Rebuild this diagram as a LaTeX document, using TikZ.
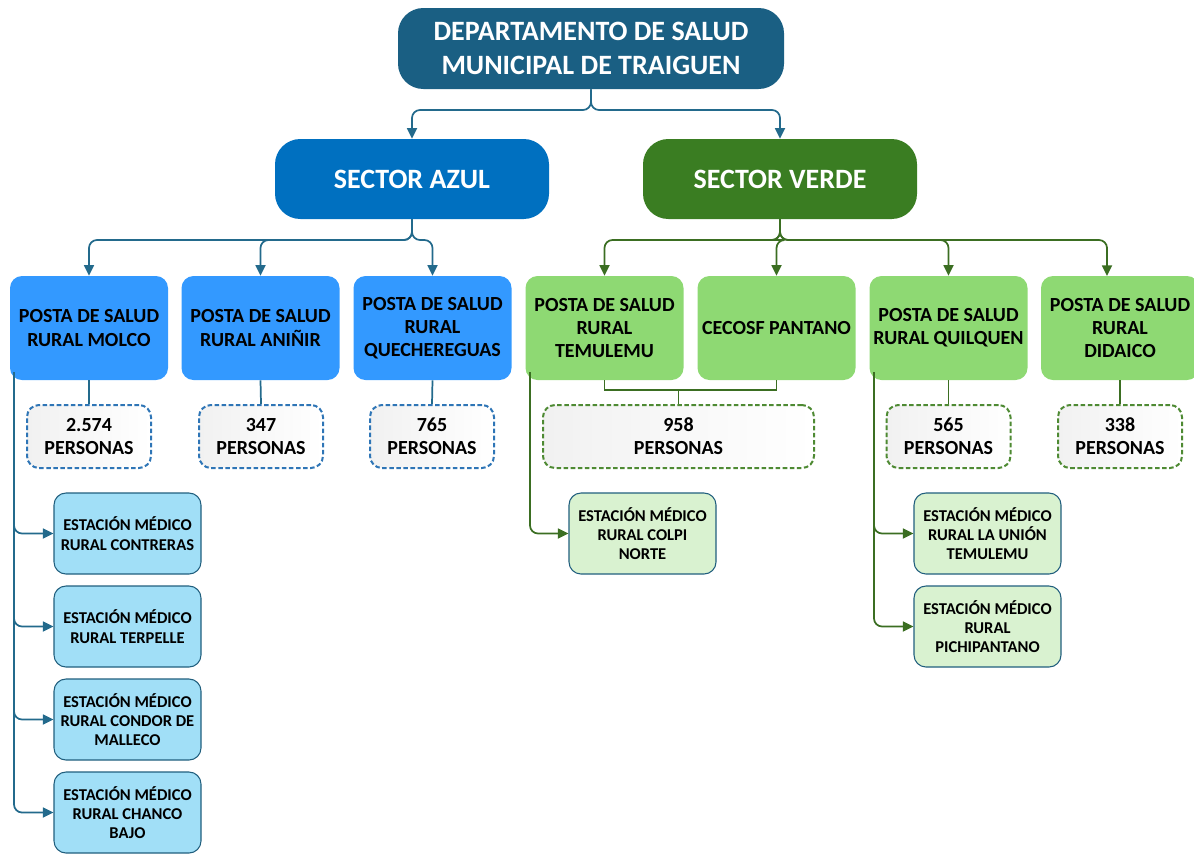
\documentclass[tikz,border=0pt]{standalone}
\usepackage{fontspec}
\setmainfont{Carlito}
\usetikzlibrary{arrows.meta}

\definecolor{titleteal}{HTML}{1A5F83}
\definecolor{secazul}{HTML}{0070C0}
\definecolor{secverde}{HTML}{3A7D22}
\definecolor{postaazul}{HTML}{3399FF}
\definecolor{postaverde}{HTML}{8ED973}
\definecolor{estazul}{HTML}{A1DFF7}
\definecolor{estverde}{HTML}{D9F2D0}
\definecolor{lineazul}{HTML}{236A8C}
\definecolor{lineverde}{HTML}{3B6E22}
\definecolor{dashazul}{HTML}{2E75B6}
\definecolor{dashverde}{HTML}{4E8A33}
\definecolor{estborde}{HTML}{215F7E}

\begin{document}
\begin{tikzpicture}[x=0.75pt,y=-0.75pt,
  every node/.style={font=\bfseries,align=center,inner sep=0pt},
  titlebox/.style={fill=titleteal,text=white,rounded corners=19pt,
    minimum width=289.5pt,minimum height=60.75pt,font=\bfseries\fontsize{21}{25.5}\selectfont},
  sectorbox/.style={fill=#1,text=white,rounded corners=19pt,
    minimum width=205.5pt,minimum height=60pt,font=\bfseries\fontsize{21}{25}\selectfont},
  postabox/.style={fill=#1,rounded corners=9pt,
    minimum width=118.5pt,minimum height=78pt,font=\bfseries\fontsize{15}{17.3}\selectfont},
  personbox/.style={draw=#1,line width=1.5pt,dash pattern=on 3.4pt off 1.9pt,
    rounded corners=9pt,left color=gray!11,right color=white,
    minimum width=93pt,minimum height=47.25pt,font=\bfseries\fontsize{15}{17.3}\selectfont},
  estbox/.style={fill=#1,draw=estborde,line width=0.8pt,rounded corners=9pt,
    minimum width=110.25pt,minimum height=60.75pt,font=\bfseries\fontsize{12.4}{14.5}\selectfont},
  conn/.style={draw=#1,line width=1.3pt,rounded corners=6pt},
  arr/.style={conn=#1,-{Triangle[length=8pt,width=7.5pt]}}]
  \useasboundingbox (0,0) rectangle (1194,854);

  % top and sectors
  \node[titlebox] (depto) at (591,48.5) {DEPARTAMENTO DE SALUD\\MUNICIPAL DE TRAIGUEN};
  \node[sectorbox=secazul] (azul) at (412,179) {SECTOR AZUL};
  \node[sectorbox=secverde] (verde) at (780,179) {SECTOR VERDE};
  \draw[arr=lineazul] (depto.south) -- (591,110) -| (azul.north);
  \draw[arr=lineazul] (depto.south) -- (591,110) -| (verde.north);

  % postas
  \node[postabox=postaazul] (molco) at (89,328) {POSTA DE SALUD\\RURAL MOLCO};
  \node[postabox=postaazul] (aninir) at (260.5,328) {POSTA DE SALUD\\RURAL ANIÑIR};
  \node[postabox=postaazul] (quech) at (432.5,328) {POSTA DE SALUD\\RURAL\\QUECHEREGUAS};
  \node[postabox=postaverde] (temul) at (604.5,328) {POSTA DE SALUD\\RURAL\\TEMULEMU};
  \node[postabox=postaverde] (cecosf) at (776.5,328) {CECOSF PANTANO};
  \node[postabox=postaverde] (quilq) at (948.5,328) {POSTA DE SALUD\\RURAL QUILQUEN};
  \node[postabox=postaverde] (didaico) at (1120,328) {POSTA DE SALUD\\RURAL\\DIDAICO};
  \coordinate (didtop) at (1107,276);

  \foreach \p in {molco,aninir,quech}
    \draw[arr=lineazul] (azul.south) -- (412,240) -| (\p.north);
  \foreach \p in {temul,cecosf,quilq}
    \draw[arr=lineverde] (verde.south) -- (780,240) -| (\p.north);
  \draw[arr=lineverde] (verde.south) -- (780,240) -| (didtop);

  % personas
  \node[personbox=dashazul] (pmolco) at (89,436.5) {2.574\\PERSONAS};
  \node[personbox=dashazul] (paninir) at (261,436.5) {347\\PERSONAS};
  \node[personbox=dashazul] (pquech) at (432,436.5) {765\\PERSONAS};
  \node[personbox=dashverde,minimum width=203.25pt] (ptemul) at (678.5,436.5) {958\\PERSONAS};
  \node[personbox=dashverde] (pquilq) at (948.5,436.5) {565\\PERSONAS};
  \node[personbox=dashverde] (pdidaico) at (1120,436.5) {338\\PERSONAS};

  \draw[conn=lineazul,rounded corners=0pt] (molco.south) -- (pmolco.north);
  \draw[conn=lineazul,rounded corners=0pt] (aninir.south) -- (paninir.north);
  \draw[conn=lineazul,rounded corners=0pt] (quech.south) -- (pquech.north);
  \draw[conn=lineverde,rounded corners=0pt] (temul.south) |- (cecosf.south |- 0,390) -- (cecosf.south);
  \draw[conn=lineverde,rounded corners=0pt] (ptemul.north) -- (ptemul.north |- 0,390);
  \draw[conn=lineverde,rounded corners=0pt] (quilq.south) -- (pquilq.north);
  \draw[conn=lineverde,rounded corners=0pt] (didaico.south -| pdidaico.north) -- (pdidaico.north);

  % estaciones medico rurales
  \node[estbox=estazul] (contreras) at (127.5,533.5) {ESTACIÓN MÉDICO\\RURAL CONTRERAS};
  \node[estbox=estazul] (terpelle) at (127.5,626.5) {ESTACIÓN MÉDICO\\RURAL TERPELLE};
  \node[estbox=estazul] (condor) at (127.5,719.5) {ESTACIÓN MÉDICO\\RURAL CONDOR DE\\MALLECO};
  \node[estbox=estazul] (chanco) at (127.5,812.5) {ESTACIÓN MÉDICO\\RURAL CHANCO\\BAJO};
  \node[estbox=estverde] (colpi) at (642.5,533.5) {ESTACIÓN MÉDICO\\RURAL COLPI\\NORTE};
  \node[estbox=estverde] (union) at (987.5,533.5) {ESTACIÓN MÉDICO\\RURAL LA UNIÓN\\TEMULEMU};
  \node[estbox=estverde] (pichi) at (987.5,626.5) {ESTACIÓN MÉDICO\\RURAL\\PICHIPANTANO};

  \coordinate (mtrunk) at (14,372);
  \coordinate (ttrunk) at (530,372);
  \coordinate (qtrunk) at (874,372);
  \foreach \e in {contreras,terpelle,condor,chanco}
    \draw[arr=lineazul] (mtrunk) |- (\e.west);
  \draw[arr=lineverde] (ttrunk) |- (colpi.west);
  \foreach \e in {union,pichi}
    \draw[arr=lineverde] (qtrunk) |- (\e.west);
\end{tikzpicture}
\end{document}
